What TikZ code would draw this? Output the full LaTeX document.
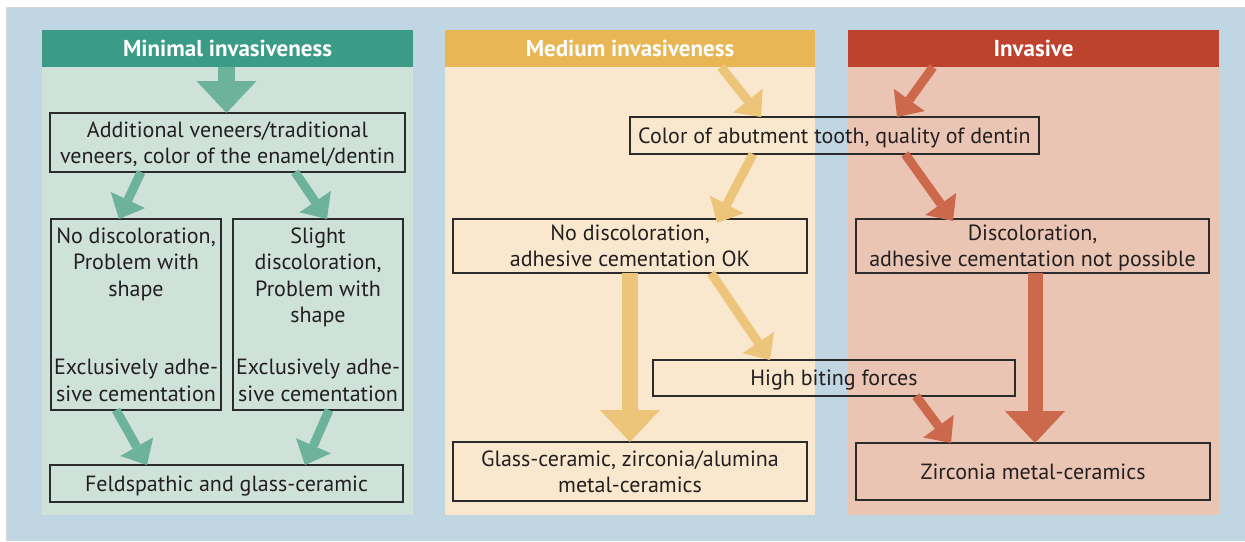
\documentclass[tikz,border=0pt]{standalone}
\usepackage{fontspec}
\setmainfont{PT Sans}
\usetikzlibrary{arrows.meta}
\definecolor{bgblue}{HTML}{C1D6E3}
\definecolor{ghdr}{HTML}{3A9C86}
\definecolor{gbody}{HTML}{CFE2DA}
\definecolor{garr}{HTML}{6DB39B}
\definecolor{ohdr}{HTML}{E8B655}
\definecolor{obody}{HTML}{F9E8CE}
\definecolor{oarr}{HTML}{EDC57A}
\definecolor{rhdr}{HTML}{BE432E}
\definecolor{rbody}{HTML}{EBC5B4}
\definecolor{rarr}{HTML}{CC694C}
\definecolor{txt}{HTML}{231F20}
\definecolor{boxline}{HTML}{2B2B2B}
\tikzset{
  hdr/.style={inner sep=0pt, outer sep=0pt, minimum height=37pt, text=white,
    font=\fontsize{23}{26}\selectfont\bfseries},
  box/.style={draw=boxline, line width=1.3pt, inner sep=0pt, outer sep=0pt,
    align=center, text=txt, text depth=0pt, font=\fontsize{22}{26.3}\selectfont},
  diag/.style={line width=9pt, -{Triangle[width=38pt,length=21pt,line width=0pt]}},
  bigarr/.style={line width=16pt, -{Triangle[width=60pt,length=32pt,line width=0pt]}},
}
\begin{document}
\begin{tikzpicture}[x=1pt,y=-1pt]
\useasboundingbox (0,0) rectangle (1245,541);
\fill[white] (0,0) rectangle (1245,541);
\fill[bgblue] (6,7) rectangle (1245,541);
\draw[black!15, line width=1pt] (6,541) -- (6,7) -- (1245,7);
% column bodies
\fill[gbody] (42,30) rectangle (413,515);
\fill[obody] (445,30) rectangle (815,515);
\fill[rbody] (848,30) rectangle (1219,515);
% headers
\node[hdr, fill=ghdr, minimum width=371pt] (hg) at (227.5,48.5) {Minimal invasiveness};
\node[hdr, fill=ohdr, minimum width=370pt] (ho) at (630,48.5) {Medium invasiveness};
\node[hdr, fill=rhdr, minimum width=371pt] (hr) at (1033.5,48.5) {Invasive};
% green column boxes
\node[box, minimum width=355pt, minimum height=59pt] (A) at (227.5,142.5)
  {Additional veneers/traditional\\veneers, color of the enamel/dentin};
\node[box, minimum width=170pt, minimum height=191pt] (B1) at (136,314.5)
  {No discoloration,\\Problem with\\shape\\[52.6pt]Exclusively adhe-\\sive cementation};
\node[box, minimum width=170pt, minimum height=191pt] (B2) at (318,314.5)
  {Slight\\discoloration,\\Problem with\\shape\\[26.3pt]Exclusively adhe-\\sive cementation};
\node[box, minimum width=353pt, minimum height=37pt] (C) at (226.5,483.5)
  {Feldspathic and glass-ceramic};
% orange / red boxes
\node[box, minimum width=409pt, minimum height=37pt] (D) at (834.5,135.5)
  {Color of abutment tooth, quality of dentin};
\node[box, minimum width=354pt, minimum height=54pt] (E) at (630,246)
  {No discoloration,\\adhesive cementation OK};
\node[box, minimum width=353pt, minimum height=54pt] (F) at (1032.5,246)
  {Discoloration,\\adhesive cementation not possible};
\node[box, minimum width=362pt, minimum height=36pt] (G) at (834,378)
  {High biting forces};
\node[box, minimum width=354pt, minimum height=59pt] (H) at (630,471.5)
  {Glass-ceramic, zirconia/alumina\\metal-ceramics};
\node[box, minimum width=354pt, minimum height=57pt] (I) at (1033,471.5)
  {Zirconia metal-ceramics};
% green arrows
\draw[garr, line width=17.5pt, -{Triangle[width=60pt,length=32pt,line width=0pt]}]
  ([xshift=-1pt]hg.south) -- ([xshift=-1pt]A.north);
\draw[garr, diag] ([xshift=-86.5pt]A.south) -- ([xshift=-17pt]B1.north);
\draw[garr, diag] ([xshift=67.5pt]A.south) -- ([xshift=9pt]B2.north);
\draw[garr, diag] ([xshift=-20pt]B1.south) -- ([xshift=-79.5pt]C.north);
\draw[garr, diag] ([xshift=11pt]B2.south) -- ([xshift=78.5pt]C.north);
% orange arrows
\draw[oarr, diag] ([xshift=91pt]ho.south) -- ([xshift=-73.5pt]D.north);
\draw[oarr, diag] ([xshift=-81.5pt]D.south) -- ([xshift=87pt,yshift=-4pt]E.north);
\draw[oarr, bigarr] (E.south) -- (H.north);
\draw[oarr, diag] ([xshift=81pt]E.south) -- ([xshift=-64pt]G.north);
% red arrows
\draw[rarr, diag] ([xshift=-100.5pt]hr.south) -- ([xshift=62.5pt]D.north);
\draw[rarr, diag] ([xshift=70.5pt]D.south) -- ([xshift=-79.5pt,yshift=-2pt]F.north);
\draw[rarr, bigarr, line width=15pt] ([xshift=2.5pt]F.south) -- ([xshift=2pt]I.north);
\draw[rarr, diag] ([xshift=82pt]G.south) -- ([xshift=-82pt]I.north);
\end{tikzpicture}
\end{document}
